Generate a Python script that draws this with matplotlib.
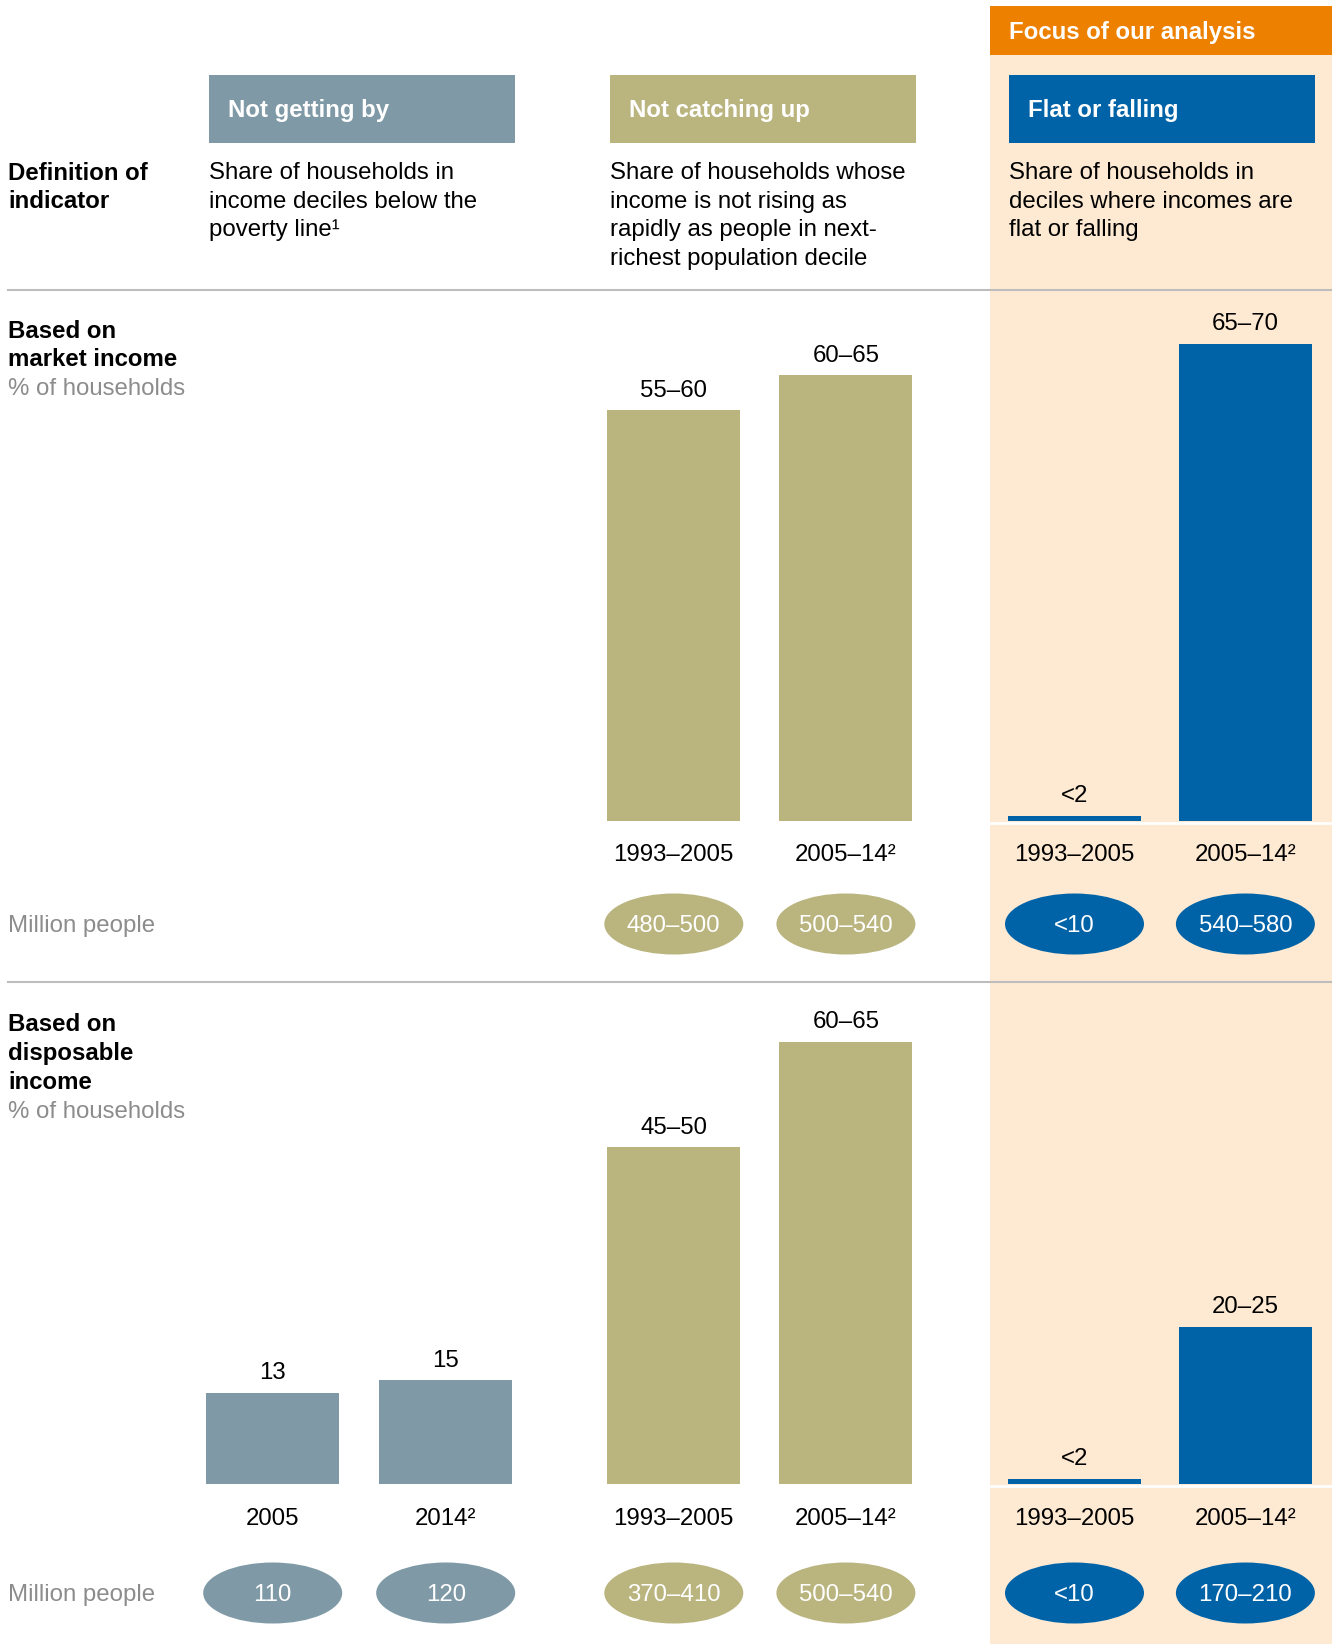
import matplotlib
matplotlib.use("Agg")
import matplotlib.pyplot as plt
from matplotlib.patches import Rectangle, Ellipse

plt.rcParams['font.family'] = ['Liberation Sans', 'DejaVu Sans']

# ---- data ----
groups = ["Not getting by", "Not catching up", "Flat or falling"]
definitions = [
    ["Share of households in", "income deciles below the", "poverty line\u00b9"],
    ["Share of households whose", "income is not rising as", "rapidly as people in next-", "richest population decile"],
    ["Share of households in", "deciles where incomes are", "flat or falling"],
]

# market income (not getting by has no bars)
market_periods = ["1993\u20132005", "2005\u201314\u00b2", "1993\u20132005", "2005\u201314\u00b2"]
market_values = [58, 63, 0.75, 67.4]
market_labels = ["55\u201360", "60\u201365", "<2", "65\u201370"]
market_people = ["480\u2013500", "500\u2013540", "<10", "540\u2013580"]
market_groups = [1, 1, 2, 2]

# disposable income
disp_periods = ["2005", "2014\u00b2", "1993\u20132005", "2005\u201314\u00b2", "1993\u20132005", "2005\u201314\u00b2"]
disp_values = [12.9, 14.7, 47.6, 62.5, 0.75, 22.2]
disp_labels = ["13", "15", "45\u201350", "60\u201365", "<2", "20\u201325"]
disp_people = ["110", "120", "370\u2013410", "500\u2013540", "<10", "170\u2013210"]
disp_groups = [0, 0, 1, 1, 2, 2]

# ---- style / layout ----
W, H = 1332, 1644
colors = ["#7f9aa6", "#bab47f", "#0063a8"]
orange = "#ee8000"
beige = "#feead2"
grey_txt = "#8c8c8c"
FS = 17.3

group_left = [209, 610, 1009]
box_w = 306
bar_x = {0: [272.7, 445.7], 1: [673.8, 845.9], 2: [1074.5, 1245.4]}
bar_w = 133
px_per_unit = 7.08
ymax = 75

fig = plt.figure(figsize=(W / 100, H / 100), dpi=100)
bg = fig.add_axes([0, 0, 1, 1])
bg.set_xlim(0, W)
bg.set_ylim(H, 0)
bg.axis("off")

# focus column
bg.add_patch(Rectangle((990, 55), W - 990, H - 55, color=beige, lw=0, zorder=0))
bg.add_patch(Rectangle((990, 6), W - 990, 49, color=orange, lw=0, zorder=1))
bg.text(1009, 33, "Focus of our analysis", color="white", fontsize=FS,
        fontweight="bold", va="center", ha="left")

# header boxes + definitions
for g in range(3):
    bg.add_patch(Rectangle((group_left[g], 75), box_w, 68, color=colors[g], lw=0, zorder=1))
    bg.text(group_left[g] + 19, 111, groups[g], color="white", fontsize=FS,
            fontweight="bold", va="center", ha="left")
    for i, line in enumerate(definitions[g]):
        bg.text(group_left[g], 173 + 28.6 * i, line, fontsize=FS, va="center", ha="left")

bg.text(8, 173, "Definition of", fontsize=FS, fontweight="bold", va="center")
bg.text(8, 202, "indicator", fontsize=FS, fontweight="bold", va="center")

# separators
for y in [290, 982]:
    bg.plot([8, W], [y, y], color="#bdbdbd", lw=1.5, zorder=2)

# row labels
for i, line in enumerate(["Based on", "market income"]):
    bg.text(8, 331 + 29 * i, line, fontsize=FS, fontweight="bold", va="center")
bg.text(8, 389, "% of households", fontsize=FS, color=grey_txt, va="center")
for i, line in enumerate(["Based on", "disposable", "income"]):
    bg.text(8, 1024.5 + 29 * i, line, fontsize=FS, fontweight="bold", va="center")
bg.text(8, 1112, "% of households", fontsize=FS, color=grey_txt, va="center")


def panel(base, values, labels, periods, people, grps, label_y, ell_y):
    # white baseline across the focus column
    bg.plot([990, W], [base + 2, base + 2], color="white", lw=2, zorder=2)
    ax = fig.add_axes([0, 1 - base / H, 1, ymax * px_per_unit / H])
    ax.set_xlim(0, W)
    ax.set_ylim(0, ymax)
    ax.axis("off")
    ax.patch.set_alpha(0)
    count = {0: 0, 1: 0, 2: 0}
    for v, lab, per, ppl, g in zip(values, labels, periods, people, grps):
        x = bar_x[g][count[g]]
        count[g] += 1
        ax.bar(x, v, width=bar_w, color=colors[g], lw=0)
        ax.annotate(lab, (x, v), xytext=(0, 6), textcoords="offset points",
                    ha="center", va="bottom", fontsize=FS)
        bg.text(x, label_y, per, fontsize=FS, ha="center", va="center")
        bg.add_patch(Ellipse((x, ell_y), 139, 61, color=colors[g], lw=0, zorder=1))
        bg.text(x, ell_y + 1.5, ppl, fontsize=FS, color="white", ha="center", va="center", zorder=3)
    bg.text(8, ell_y + 1.5, "Million people", fontsize=FS, color=grey_txt, va="center")


panel(821, market_values, market_labels, market_periods, market_people, market_groups, 855, 924)
panel(1484, disp_values, disp_labels, disp_periods, disp_people, disp_groups, 1519, 1593)

fig.savefig("out.png", dpi=100, facecolor="white")
